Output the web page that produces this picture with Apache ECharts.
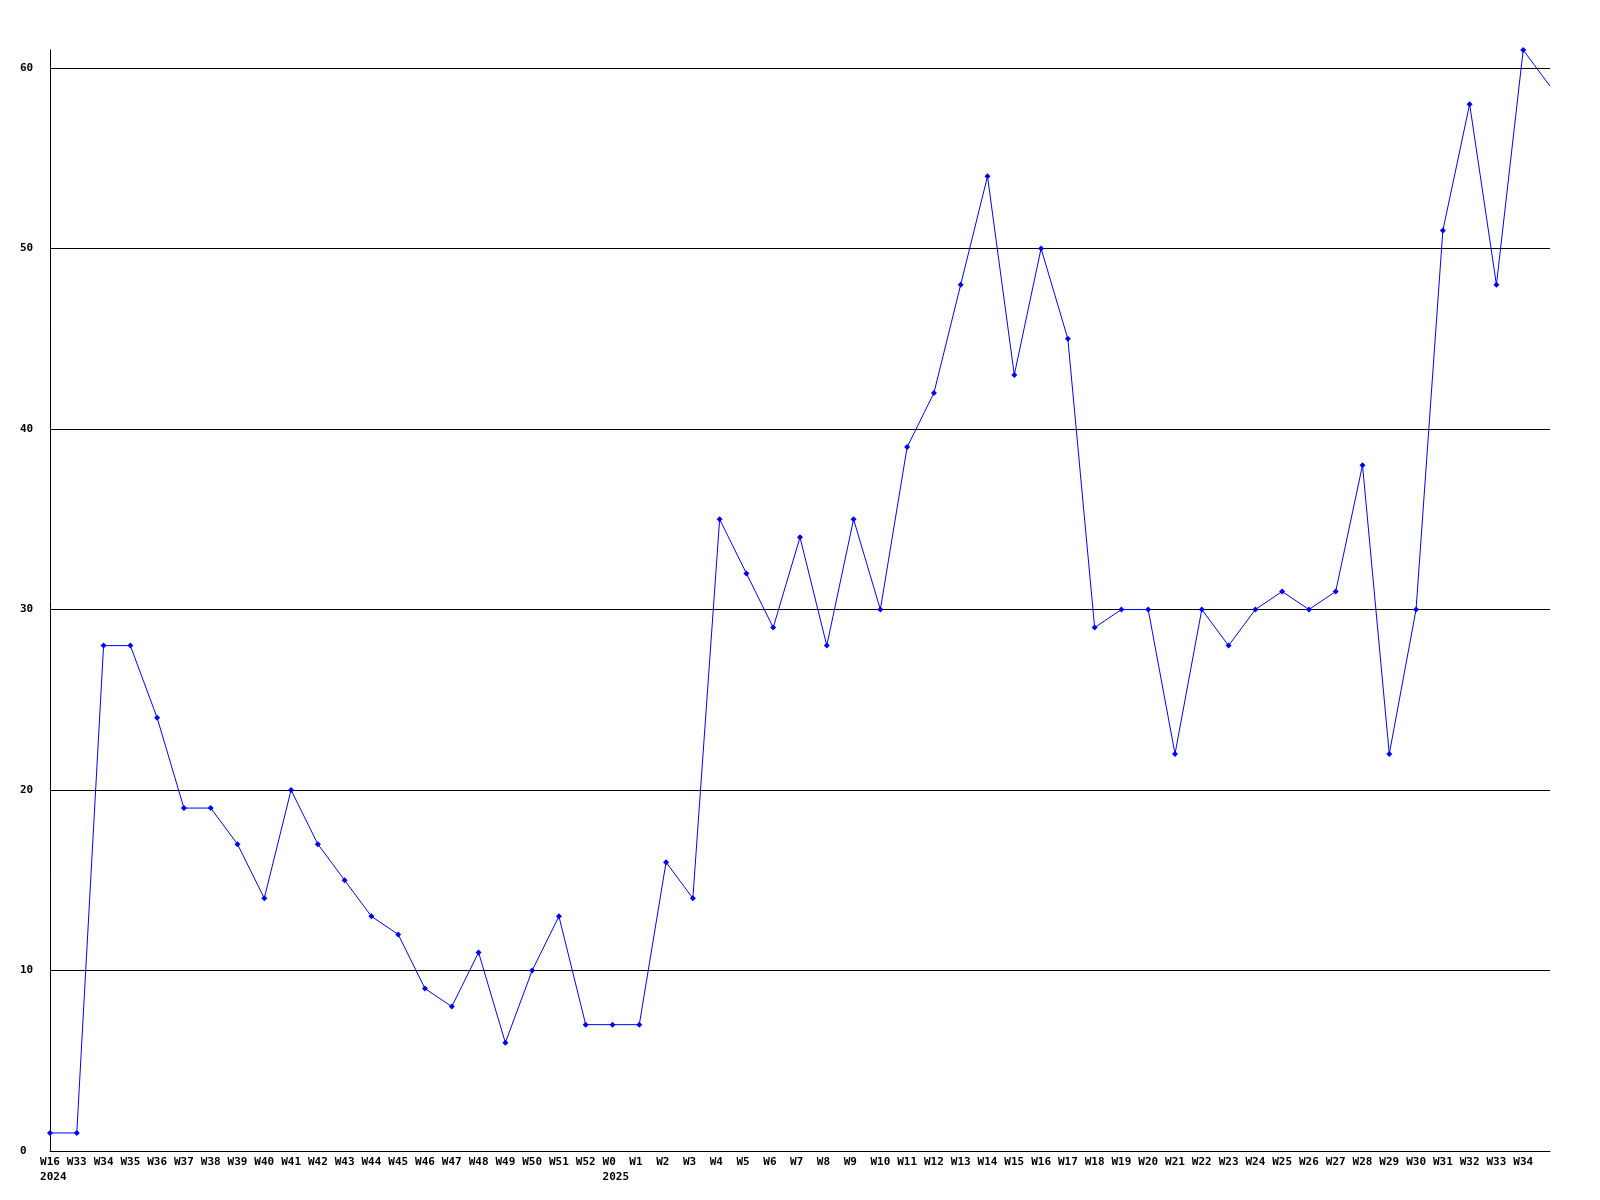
<!DOCTYPE html>
<html>
<head>
<meta charset="utf-8">
<script src="https://cdn.jsdelivr.net/npm/echarts@6/dist/echarts.min.js"></script>
<style>
html,body{margin:0;padding:0;background:#fff;}
#chart{width:1600px;height:1200px;}
</style>
</head>
<body>
<div id="chart"></div>
<script>
const categories = ['W16','W33','W34','W35','W36','W37','W38','W39','W40','W41','W42','W43','W44','W45','W46','W47','W48','W49','W50','W51','W52',
  'W0','W1','W2','W3','W4','W5','W6','W7','W8','W9','W10','W11','W12','W13','W14','W15','W16','W17','W18','W19','W20','W21','W22','W23','W24','W25','W26','W27','W28','W29','W30','W31','W32','W33','W34','W35'];
const values = [1,1,28,28,24,19,19,17,14,20,17,15,13,12,9,8,11,6,10,13,7,
  7,7,16,14,35,32,29,34,28,35,30,39,42,48,54,43,50,45,29,30,30,22,30,28,30,31,30,31,38,22,30,51,58,48,61,59];
const yearIndex = [0, 21];
const yearText = ['2024', '2025'];
const yTicks = {min: 0, max: 61, interval: 10};

const font = '"DejaVu Sans Mono", "Liberation Mono", monospace';
const lastIdx = categories.length - 1;
const chart = echarts.init(document.getElementById('chart'), null, {renderer: 'canvas'});
chart.setOption({
  backgroundColor: '#ffffff',
  animation: false,
  grid: {left: 50, right: 50, top: 50, bottom: 49},
  xAxis: {
    type: 'category',
    data: categories,
    boundaryGap: false,
    axisLine: {show: true, lineStyle: {color: '#000', width: 1}},
    axisTick: {show: false},
    splitLine: {show: false},
    axisLabel: {
      interval: 0,
      margin: 4,
      color: '#000',
      fontFamily: font,
      fontWeight: 'bold',
      fontSize: 11,
      lineHeight: 15,
      align: 'center',
      formatter: function (val, idx) {
        if (idx === lastIdx) return '';
        const w = val.length < 3 ? val + ' '.repeat(3 - val.length) : val;
        const k = yearIndex.indexOf(idx);
        return k >= 0 ? w + '\n ' + yearText[k] : w;
      }
    }
  },
  yAxis: {
    type: 'value',
    min: yTicks.min,
    max: yTicks.max,
    interval: yTicks.interval,
    axisLine: {show: true, lineStyle: {color: '#000', width: 1}},
    axisTick: {show: false},
    splitLine: {show: true, showMaxLine: false, lineStyle: {color: '#000', width: 1}},
    axisLabel: {
      showMaxLabel: false,
      align: 'left',
      margin: 30,
      color: '#000',
      fontFamily: font,
      fontWeight: 'bold',
      fontSize: 11
    }
  },
  series: [{
    type: 'line',
    data: values.map((v, i) => i === lastIdx ? {value: v, symbol: 'none'} : v),
    symbol: 'diamond',
    symbolSize: 6,
    showAllSymbol: true,
    lineStyle: {color: '#0000ff', width: 1},
    itemStyle: {color: '#0000ff'},
    clip: true
  }]
});
</script>
</body>
</html>
